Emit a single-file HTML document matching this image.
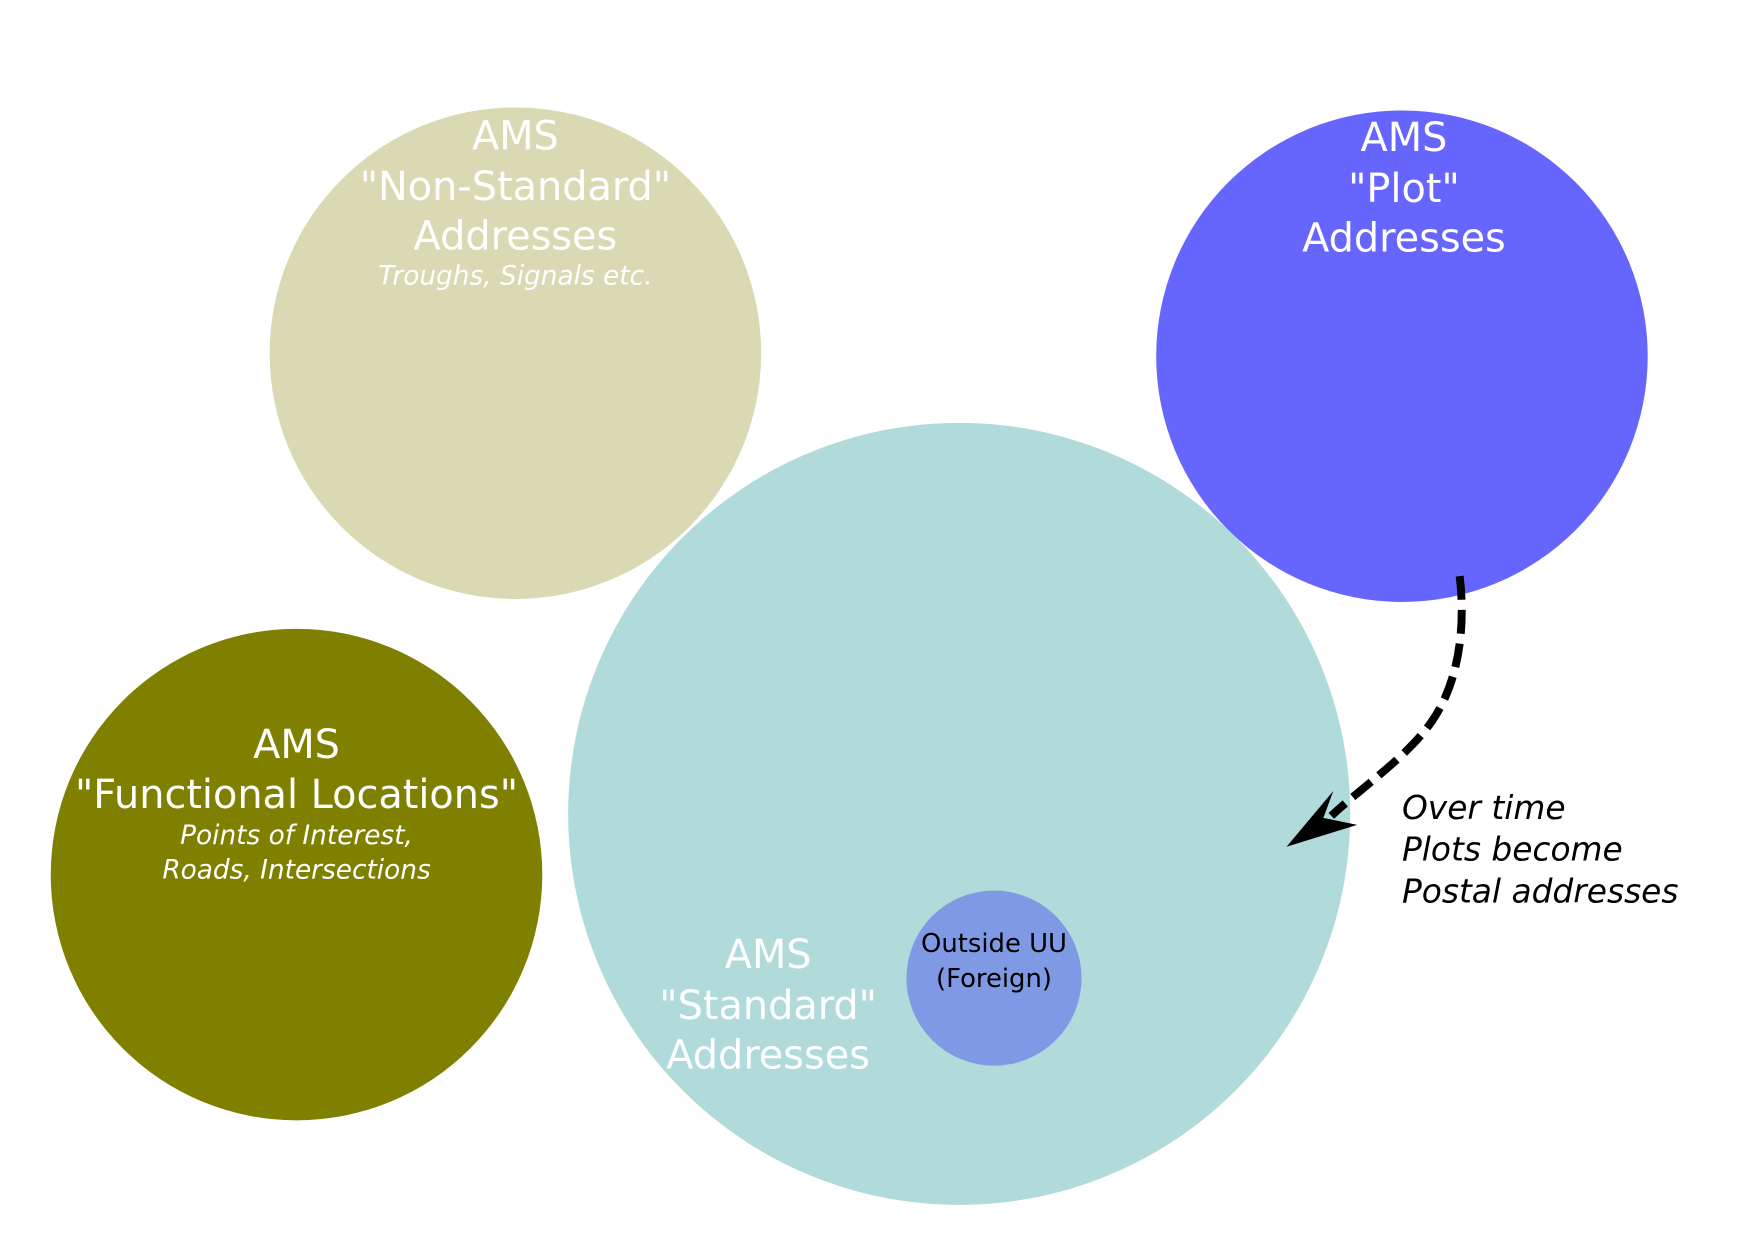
<!DOCTYPE html>
<html><head><meta charset="utf-8"><style>
html,body{margin:0;padding:0;background:#fff;width:1754px;height:1240px;overflow:hidden}
svg text{font-family:"DejaVu Sans","Liberation Sans",sans-serif}
</style></head><body>
<svg width="1754" height="1240" viewBox="0 0 1754 1240" xmlns="http://www.w3.org/2000/svg">
<rect width="1754" height="1240" fill="#fff"/>
<g transform="scale(0.995)">
<circle cx="518" cy="355" r="247" fill="#d9dab3"/>
<circle cx="1409" cy="358" r="247" fill="#6666ff"/>
<circle cx="298" cy="879" r="247" fill="#808000"/>
<circle cx="964" cy="818" r="393" fill="#b1dada"/>
<circle cx="999" cy="983" r="88" fill="#7f99e5"/>

<g fill="#fff" text-anchor="middle" font-size="40">
<text x="518" y="150">AMS</text>
<text x="518" y="201">"Non-Standard"</text>
<text x="518" y="251">Addresses</text>
<text x="518" y="286" font-size="26.5" font-style="italic">Troughs, Signals etc.</text>

<text x="1411" y="152">AMS</text>
<text x="1411" y="203">"Plot"</text>
<text x="1411" y="253">Addresses</text>

<text x="298" y="762">AMS</text>
<text x="298" y="812">"Functional Locations"</text>
<text x="298" y="848" font-size="26.5" font-style="italic">Points of Interest,</text>
<text x="298" y="883" font-size="26.5" font-style="italic">Roads, Intersections</text>

<text x="772" y="973">AMS</text>
<text x="772" y="1024">"Standard"</text>
<text x="772" y="1074">Addresses</text>
</g>
<g fill="#000" text-anchor="middle" font-size="26">
<text x="999" y="957">Outside UU</text>
<text x="999" y="992">(Foreign)</text>
</g>
<g fill="#000" font-size="33" font-style="italic">
<text x="1409" y="823">Over time</text>
<text x="1409" y="865">Plots become</text>
<text x="1409" y="907">Postal addresses</text>
</g>

<path d="M1467 579 C1472 620 1470 680 1439 725 C1415 760 1370 790 1338 820" fill="none" stroke="#000" stroke-width="8" stroke-dasharray="24,10"/>
<path d="M1293 851 L1340 795 L1330 822 L1364 829 Z" fill="#000"/>
</g>
</svg>
</body></html>
